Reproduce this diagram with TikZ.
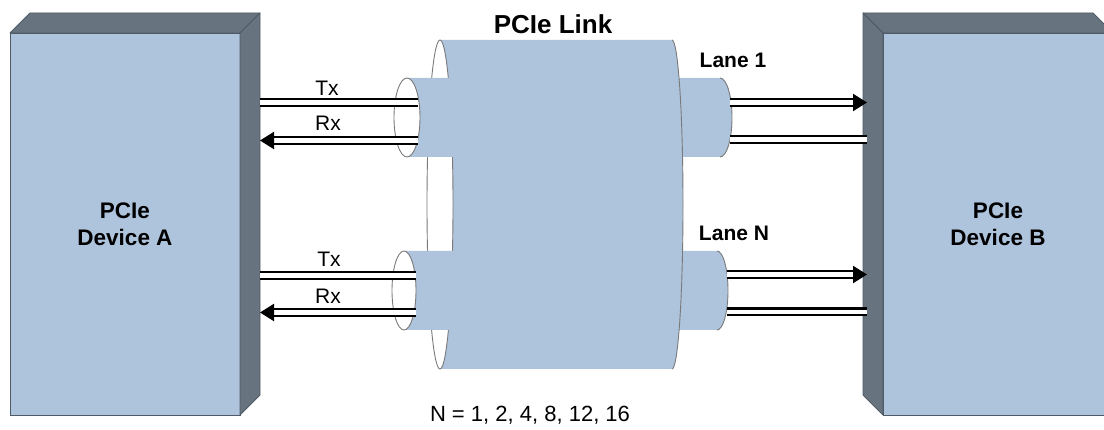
\documentclass[tikz,border=0pt]{standalone}
\usepackage{fontspec}
\setmainfont{Liberation Sans}
\usepackage{xcolor}
\definecolor{linkBlue}{HTML}{AEC3DC}
\definecolor{sideGray}{HTML}{67737F}
\definecolor{edgeGray}{HTML}{4F5A66}
\definecolor{rimGray}{HTML}{7A7A7A}
\usepackage{tikz}
\usetikzlibrary{
    arrows.meta,
    positioning
}
\tikzset{
    % Front face of a device box
    device/.style={
        rectangle,
        draw=edgeGray,
        line width=0.8pt,
        fill=linkBlue,
        minimum width=230pt,
        minimum height=382pt,
        inner sep=0pt,
        outer sep=0pt,
        align=center,
        font=\fontsize{22.5}{27}\selectfont\bfseries,
    },
    % Top and side faces of the boxes
    face/.style={
        fill=sideGray,
        draw=edgeGray,
        line width=0.8pt,
        line join=round,
    },
    % Cylinder body and its rims
    link/.style={fill=linkBlue},
    rim/.style={draw=rimGray, line width=0.9pt},
    % Double wire of a lane
    wire/.style={
        draw=black,
        line width=2.2pt,
        double=white,
        double distance=4.6pt,
    },
    wire arrow/.style={
        wire,
        -{Triangle[length=14pt, width=17pt]},
    },
    % Labels
    sig label/.style={font=\fontsize{21}{25}\selectfont},
    lane label/.style={font=\fontsize{21}{25}\selectfont\bfseries},
    title label/.style={font=\fontsize{26}{30}\selectfont\bfseries},
}

\begin{document}
\begin{tikzpicture}[x=1pt, y=-1pt]
    \useasboundingbox (0,0) rectangle (1104,430);
    \clip (0,0) rectangle (1104,430);

    % devices
    \node (devA) [device] at (125,224) {PCIe\\Device A};
    \node (devB) [device] at (998,224) {PCIe\\Device B};
    \draw [face] (devA.north west) -- ++(20,-20) -- ++(230,0) -- (devA.north east) -- cycle;
    \draw [face] (devA.north east) -- ++(20,-20) -- ++(0,382) -- (devA.south east) -- cycle;
    \draw [face] (devB.north west) -- ++(-20,-20) -- ++(230,0) -- (devB.north east) -- cycle;
    \draw [face] (devB.north west) -- ++(-20,-20) -- ++(0,382) -- (devB.south west) -- cycle;

    % right lane stubs, behind the link
    \foreach \t/\b/\cx/\rx in {78/157/720/12, 251/330/717/11} {
        \fill [link] (665,\t) -- (\cx,\t)
            arc [start angle=-90, end angle=90, x radius=\rx, y radius=39.5]
            -- (665,\b) -- cycle;
        \draw [rim] (\cx,\t)
            arc [start angle=-90, end angle=90, x radius=\rx, y radius=39.5];
    }

    % the link
    \fill [link] (440,40) -- (672,40)
        arc [start angle=-90, end angle=90, x radius=11, y radius=164.5]
        -- (440,369)
        arc [start angle=90, end angle=-90, x radius=13, y radius=164.5] -- cycle;
    \draw [rim] (440,204.5) ellipse [x radius=13, y radius=164.5];
    \draw [rim] (672,40)
        arc [start angle=-90, end angle=90, x radius=11, y radius=164.5];

    % left lane stubs, in front of the link
    \foreach \t/\b/\cx/\rx in {78/157/407/13, 251/330/404/12} {
        \fill [link] (\cx,\t) -- (470,\t) -- (470,\b) -- (\cx,\b)
            arc [start angle=90, end angle=-90, x radius=\rx, y radius=39.5] -- cycle;
        \draw [rim] (\cx,\t+39.5) ellipse [x radius=\rx, y radius=39.5];
    }

    % wire ends
    \coordinate (aTx1) at (260,102.5);
    \coordinate (lTx1) at (418,102.5);
    \coordinate (aRx1) at (260,140.5);
    \coordinate (lRx1) at (418,140.5);
    \coordinate (rTx1) at (730,102.5);
    \coordinate (bTx1) at (867,102.5);
    \coordinate (rRx1) at (730,139.5);
    \coordinate (bRx1) at (867,139.5);
    \coordinate (aTxN) at (260,275.5);
    \coordinate (lTxN) at (416,275.5);
    \coordinate (aRxN) at (260,312.5);
    \coordinate (lRxN) at (416,312.5);
    \coordinate (rTxN) at (727,274.5);
    \coordinate (bTxN) at (867,274.5);
    \coordinate (rRxN) at (727,312);
    \coordinate (bRxN) at (867,312);

    \draw [wire] (aTx1) -- (lTx1);
    \draw [wire arrow] (lRx1) -- (aRx1);
    \draw [wire arrow] (rTx1) -- (bTx1);
    \draw [wire] (rRx1) -- (bRx1);
    \draw [wire] (aTxN) -- (lTxN);
    \draw [wire arrow] (lRxN) -- (aRxN);
    \draw [wire arrow] (rTxN) -- (bTxN);
    \draw [wire] (rRxN) -- (bRxN);

    % labels
    \node (tx1) [sig label] at (327,88) {Tx};
    \node (rx1) [sig label] at (328,123) {Rx};
    \node (txN) [sig label] at (329,259) {Tx};
    \node (rxN) [sig label] at (328,296) {Rx};
    \node (lane1) [lane label] at (733,60) {Lane 1};
    \node (laneN) [lane label] at (734,233) {Lane N};
    \node (title) [title label] at (553,24) {PCIe Link};
    \node (widths) [sig label, font=\fontsize{22}{26}\selectfont] at (530,415) {N = 1, 2, 4, 8, 12, 16};
\end{tikzpicture}
\end{document}
